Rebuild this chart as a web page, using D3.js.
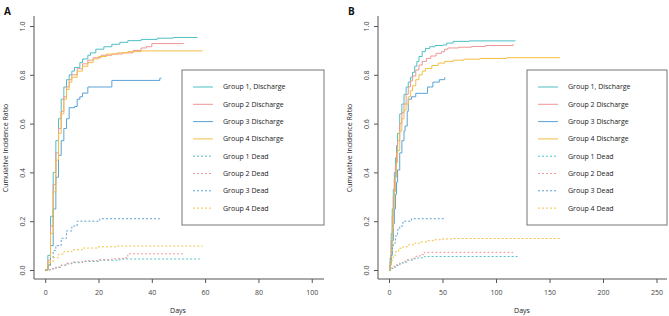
<!DOCTYPE html>
<html><head><meta charset="utf-8">
<script src="https://cdn.jsdelivr.net/npm/d3@7"></script>
<style>body{margin:0;background:#fff}svg{display:block}text{font-family:"Open Sans","Noto Sans",sans-serif}</style>
</head><body><svg id="c" width="669" height="316"></svg>
<script>
// ---- data ----
const yTicks = [0, 0.2, 0.4, 0.6, 0.8, 1.0];
const xTicksA = [0, 20, 40, 60, 80, 100];
const xTicksB = [0, 50, 100, 150, 200, 250];
const legendLabels = ["Group 1, Discharge","Group 2 Discharge","Group 3 Discharge","Group 4 Discharge","Group 1 Dead","Group 2 Dead","Group 3 Dead","Group 4 Dead"];
const groupColors = ["#4fc0c4","#ef9696","#5aa3d6","#f2bf45"];

// Panel A  [day, cumulative incidence]
const a_g1_dis = [[0,0],[1,0.06],[2,0.22],[3,0.40],[4,0.53],[5,0.62],[6,0.70],[7,0.75],[8,0.78],[9,0.80],[10,0.815],[11,0.83],[13,0.85],[14,0.865],[16,0.88],[17,0.89],[19,0.905],[22,0.915],[25,0.925],[28,0.933],[31,0.94],[36,0.945],[42,0.95],[48,0.953],[57,0.955]];
const a_g2_dis = [[0,0],[1,0.04],[2,0.18],[3,0.35],[4,0.48],[5,0.58],[6,0.65],[7,0.71],[8,0.75],[9,0.78],[10,0.80],[12,0.825],[14,0.845],[16,0.86],[18,0.87],[21,0.88],[25,0.885],[29,0.89],[33,0.90],[36,0.91],[38,0.915],[40,0.928],[52,0.928]];
const a_g3_dis = [[0,0],[1,0.02],[2,0.10],[3,0.25],[4,0.38],[5,0.47],[6,0.53],[7,0.58],[8,0.62],[9,0.665],[11,0.67],[12,0.70],[13,0.71],[14,0.725],[16,0.75],[25,0.777],[43,0.786],[43.6,0.786]];
const a_g4_dis = [[0,0],[1,0.03],[2,0.15],[3,0.32],[4,0.45],[5,0.56],[6,0.64],[7,0.70],[8,0.74],[9,0.77],[10,0.79],[12,0.815],[14,0.835],[16,0.85],[18,0.865],[20,0.875],[23,0.885],[27,0.89],[31,0.895],[36,0.898],[59,0.898]];
const a_g1_dead = [[0,0],[2,0.005],[4,0.01],[6,0.02],[8,0.025],[10,0.03],[14,0.035],[20,0.04],[28,0.045],[58,0.045]];
const a_g2_dead = [[0,0],[2,0.005],[4,0.012],[6,0.02],[8,0.028],[10,0.033],[15,0.038],[20,0.042],[25,0.046],[30,0.05],[31,0.066],[52,0.066]];
const a_g3_dead = [[0,0],[1,0.02],[2,0.05],[3,0.08],[4,0.10],[6,0.13],[8,0.16],[10,0.18],[12,0.2],[20.5,0.21],[43,0.21]];
const a_g4_dead = [[0,0],[1,0.02],[2,0.035],[3,0.05],[5,0.065],[7,0.075],[10,0.083],[14,0.09],[20,0.095],[27,0.098],[59,0.098]];

// Panel B
const b_g1_dis = [[0,0],[1,0.05],[2,0.15],[3,0.25],[4,0.33],[5,0.40],[6,0.46],[7,0.51],[8,0.56],[10,0.64],[12,0.68],[14,0.72],[16,0.75],[18,0.77],[20,0.79],[22,0.81],[24,0.835],[26,0.855],[28,0.875],[31,0.895],[34,0.908],[38,0.915],[43,0.92],[50,0.922],[54,0.93],[60,0.937],[75,0.939],[118,0.94]];
const b_g2_dis = [[0,0],[1,0.03],[2,0.12],[3,0.22],[4,0.30],[5,0.37],[6,0.43],[7,0.48],[8,0.53],[10,0.60],[12,0.645],[14,0.68],[16,0.72],[18,0.75],[20,0.775],[22,0.795],[25,0.82],[28,0.84],[31,0.855],[35,0.867],[39,0.877],[44,0.888],[49,0.895],[52,0.905],[55,0.91],[65,0.913],[77,0.916],[90,0.92],[116,0.925]];
const b_g3_dis = [[0,0],[1,0.02],[2,0.06],[3,0.12],[4,0.19],[5,0.25],[6,0.31],[7,0.36],[8,0.41],[10,0.48],[12,0.53],[14,0.57],[15,0.59],[17,0.65],[18,0.70],[21,0.71],[25,0.724],[36,0.75],[41,0.77],[47,0.78],[52,0.79]];
const b_g4_dis = [[0,0],[1,0.02],[2,0.08],[3,0.17],[4,0.25],[5,0.32],[6,0.38],[7,0.44],[8,0.49],[10,0.57],[12,0.62],[14,0.655],[16,0.68],[18,0.71],[20,0.735],[22,0.755],[25,0.78],[28,0.80],[31,0.815],[34,0.826],[40,0.838],[46,0.848],[52,0.855],[60,0.86],[70,0.864],[85,0.867],[110,0.87],[160,0.87]];
const b_g1_dead = [[0,0],[2,0.006],[4,0.012],[7,0.018],[10,0.025],[13,0.032],[17,0.04],[22,0.046],[27,0.05],[33,0.055],[120,0.055]];
const b_g2_dead = [[0,0],[2,0.008],[4,0.015],[7,0.022],[10,0.03],[13,0.036],[17,0.042],[21,0.048],[25,0.056],[29,0.063],[33,0.072],[116,0.072]];
const b_g3_dead = [[0,0],[1,0.03],[2,0.06],[3,0.09],[4,0.11],[6,0.14],[8,0.165],[10,0.18],[13,0.2],[21,0.21],[53,0.21]];
const b_g4_dead = [[0,0],[1,0.02],[2,0.04],[4,0.06],[6,0.075],[9,0.089],[13,0.095],[18,0.103],[24,0.11],[30,0.115],[36,0.12],[42,0.124],[48,0.127],[60,0.129],[160,0.13]];

// ---- drawing ----
const svg = d3.select("#c");
const axisCol = "#555";

function panel(opt){
  const g = svg.append("g");
  const x = d3.scaleLinear().domain(opt.xDomain).range([opt.left, opt.right]);
  const y = d3.scaleLinear().domain([-0.037, 1.041]).range([279, 16]);

  // L frame
  g.append("path").attr("d", `M${opt.left},${y.range()[1]}V${y.range()[0]}H${opt.right}`)
    .attr("fill","none").attr("stroke",axisCol).attr("stroke-width",1);

  // y axis
  const ya = g.append("g").attr("transform",`translate(${opt.left},0)`)
    .call(d3.axisLeft(y).tickValues(yTicks).tickFormat(d3.format(".1f")).tickSize(4).tickPadding(0));
  ya.select(".domain").remove();
  ya.selectAll("line").attr("stroke",axisCol);
  ya.selectAll("text").attr("font-size",7).attr("fill","#444")
    .attr("transform", "translate(-11,0) rotate(-90)")
    .attr("x",0).attr("y",0).attr("dy","0.35em").attr("text-anchor","middle");

  // x axis
  const xa = g.append("g").attr("transform",`translate(0,279)`)
    .call(d3.axisBottom(x).tickValues(opt.xTicks).tickFormat(d3.format("d")).tickSize(4).tickPadding(7));
  xa.select(".domain").remove();
  xa.selectAll("line").attr("stroke",axisCol);
  xa.selectAll("text").attr("font-size",7).attr("fill","#444");

  // labels
  g.append("text").attr("x",opt.daysX).attr("y",313).attr("text-anchor","middle")
    .attr("font-size",7).attr("fill","#222").text("Days");
  g.append("text").attr("transform",`translate(${opt.left-26},148) rotate(-90)`)
    .attr("text-anchor","middle").attr("font-size",7).attr("fill","#222").text("Cumulative Incidence Ratio");
  g.append("text").attr("x",opt.left-30).attr("y",15).attr("font-size",10).attr("font-weight","bold")
    .attr("fill","#111").attr("font-family","Liberation Sans, Arial, sans-serif").text(opt.title);

  const line = d3.line().x(d=>x(d[0])).y(d=>y(d[1])).curve(d3.curveStepAfter);
  opt.series.forEach((s,i)=>{
    g.append("path").datum(s).attr("d",line).attr("fill","none")
      .attr("stroke",groupColors[i%4]).attr("stroke-width",1)
      .attr("stroke-dasharray", i>=4 ? "2,2" : null);
  });

  // legend
  const lw = opt.legW, lh = 155;
  const lx = opt.right - lw, ly = (16+279)/2 - lh/2;
  const lg = g.append("g");
  lg.append("rect").attr("x",lx).attr("y",ly).attr("width",lw).attr("height",lh)
    .attr("fill","#fff").attr("stroke","#777").attr("stroke-width",1);
  legendLabels.forEach((t,i)=>{
    const yy = ly + 17 + i*17.3;
    lg.append("line").attr("x1",lx+11).attr("x2",lx+31).attr("y1",yy).attr("y2",yy)
      .attr("stroke",groupColors[i%4]).attr("stroke-width",1)
      .attr("stroke-dasharray", i>=4 ? "2,2" : null);
    lg.append("text").attr("x",lx+41).attr("y",yy).attr("dy","0.35em")
      .attr("font-size",7).attr("fill","#222").text(t);
  });
}

panel({title:"A", left:34, right:324, xDomain:[-4.2,104.6], xTicks:xTicksA, daysX:178, legW:142,
  series:[a_g1_dis,a_g2_dis,a_g3_dis,a_g4_dis,a_g1_dead,a_g2_dead,a_g3_dead,a_g4_dead]});
panel({title:"B", left:378, right:667, xDomain:[-10.3,259.8], xTicks:xTicksB, daysX:522, legW:140,
  series:[b_g1_dis,b_g2_dis,b_g3_dis,b_g4_dis,b_g1_dead,b_g2_dead,b_g3_dead,b_g4_dead]});
</script></body></html>
